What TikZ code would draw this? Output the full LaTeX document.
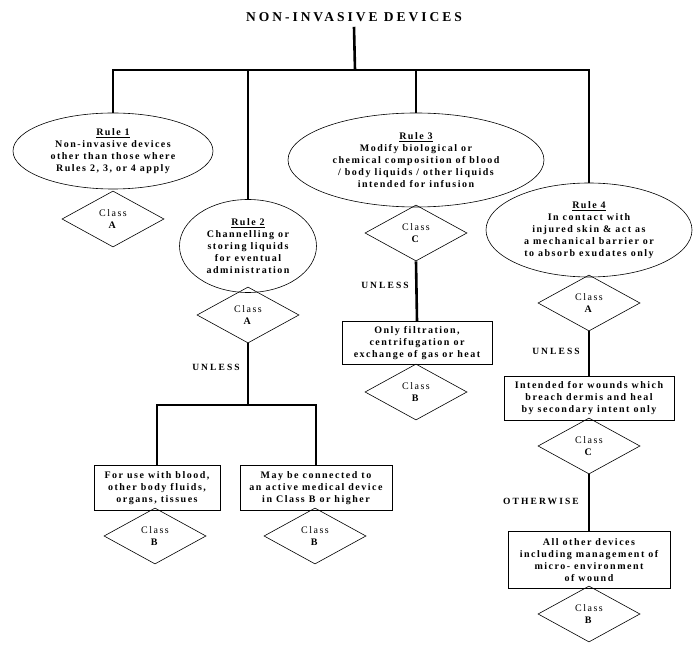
\documentclass[tikz,border=0pt]{standalone}
\usepackage{fontspec}
\setmainfont{Liberation Serif}
\newfontfamily\spfont[LetterSpace=15]{Liberation Serif}
\newfontfamily\lblfont[LetterSpace=22]{Liberation Serif}
\newfontfamily\ttlfont[LetterSpace=22]{Liberation Serif}
\usetikzlibrary{shapes.geometric}
\tikzset{
 conn/.style={line width=2.6pt},
 txt/.style={font=\spfont\bfseries\fontsize{10}{12}\selectfont, align=center},
 ell/.style={txt, ellipse, draw, line width=0.6pt, inner sep=0pt},
 dia/.style={diamond, draw, line width=0.6pt, minimum width=102pt, minimum height=56pt, inner sep=0pt, align=center, font=\spfont\fontsize{10}{12}\selectfont},
 box/.style={txt, rectangle, draw, line width=0.8pt, inner sep=0pt},
 lbl/.style={font=\lblfont\bfseries\fontsize{9.5}{11}\selectfont},
}
\begin{document}
\begin{tikzpicture}[x=1pt,y=-1pt]
\useasboundingbox (0,0) rectangle (697,652);
% title
\node[font=\ttlfont\bfseries\fontsize{13.5}{15}\selectfont, inner sep=5pt] (title) at (354,17) {NON-INVASIVE DEVICES};
\coordinate (b0) at (355,70);
% rules
\node[ell, minimum width=200pt, minimum height=76pt] (r1) at (113,151)
  {\underline{Rule 1}\\Non-invasive devices\\other than those where\\Rules 2, 3, or 4 apply};
\node[ell, minimum width=137pt, minimum height=93pt] (r2) at (248,246)
  {\underline{Rule 2}\\Channelling or\\storing liquids\\for eventual\\administration};
\node[ell, minimum width=256pt, minimum height=94pt] (r3) at (416,160)
  {\underline{Rule 3}\\Modify biological or\\chemical composition of blood\\/ body liquids / other liquids\\intended for infusion};
\node[ell, minimum width=206pt, minimum height=94pt] (r4) at (589,230)
  {\underline{Rule 4}\\In contact with\\injured skin \& act as\\a mechanical barrier or\\to absorb exudates only};
% diamonds under rules
\node[dia] (d1) at (113,219) {Class\\\textbf{A}};
\node[dia] (d2) at (248,315) {Class\\\textbf{A}};
\node[dia] (d3) at (416,233) {Class\\\textbf{C}};
\node[dia] (d4) at (589,303) {Class\\\textbf{A}};
% rule 2 branch
\coordinate (u2) at (248,405);
\node[box, minimum width=126pt, minimum height=45pt] (bx1) at (157,488)
  {For use with blood,\\other body fluids,\\organs, tissues};
\node[box, minimum width=152pt, minimum height=45pt] (bx2) at (316,488)
  {May be connected to\\an active medical device\\in Class B or higher};
\node[dia] (db1) at (155,536) {Class\\\textbf{B}};
\node[dia] (db2) at (315,536) {Class\\\textbf{B}};
% rule 3 branch
\node[box, minimum width=150pt, minimum height=43pt] (bx3) at (417,343)
  {Only filtration,\\centrifugation or\\exchange of gas or heat};
\node[dia] (db3) at (416,392) {Class\\\textbf{B}};
% rule 4 branch
\node[box, minimum width=170pt, minimum height=44pt] (bx4) at (589,398)
  {Intended for wounds which\\breach dermis and heal\\by secondary intent only};
\node[dia] (dc4) at (589,446) {Class\\\textbf{C}};
\node[box, minimum width=162pt, minimum height=57pt] (bx5) at (589,560)
  {All other devices\\including management of\\micro- environment\\of wound};
\node[dia] (db5) at (589,614) {Class\\\textbf{B}};
% labels
\node[lbl] (l1) at (216,367) {UNLESS};
\node[lbl] (l2) at (385,285) {UNLESS};
\node[lbl] (l3) at (556,351) {UNLESS};
\node[lbl] (l4) at (541,501) {OTHERWISE};
% connectors
\draw[conn] (title.south) -- (b0);
\draw[conn] (r1.north) |- (b0) -| (r4.north);
\draw[conn] (r2.north) -- (r2.north |- b0);
\draw[conn] (r3.north) -- (r3.north |- b0);
\draw[conn] (d2.south) -- (u2);
\draw[conn] (bx1.north) |- (u2) -| (bx2.north);
\draw[conn] (d3.south) -- (bx3.north);
\draw[conn] (d4.south) -- (bx4.north);
\draw[conn] (dc4.south) -- (bx5.north);
\end{tikzpicture}
\end{document}
